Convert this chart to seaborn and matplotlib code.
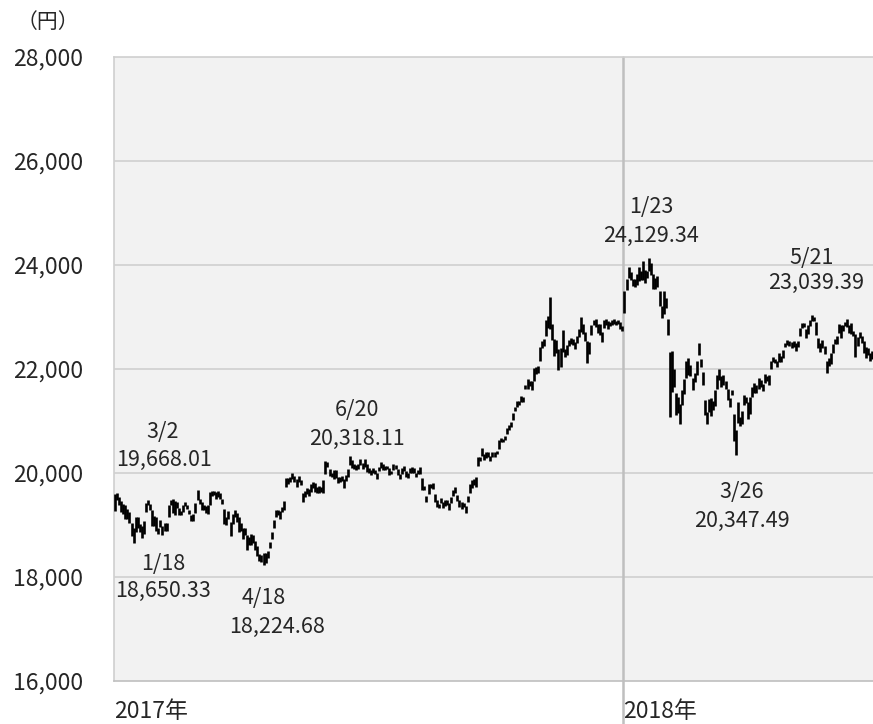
import numpy as np
import pandas as pd
import seaborn as sns
import matplotlib.pyplot as plt

# daily high / low (yen), trading days 2017-01-04 .. 2018-06-29
highs_2017 = [
    19594, 19615, 19533, 19454, 19411, 19390, 19302, 19255, 19046, 18939, 19147, 19152, 19011, 18979, 19070, 19431, 19486, 19398, 19292,
    19174, 19155, 18949, 19102, 18979, 19035, 19037, 19392, 19481, 19507, 19461, 19451, 19321, 19271, 19386, 19449, 19393, 19298, 19199, 19212,
    19415, 19668, 19492, 19439, 19390, 19373, 19379, 19627, 19656, 19651, 19644, 19650, 19620, 19505, 19299, 19155, 19278, 19059, 19207, 19297, 19226, 19154,
    19034, 18942, 18950, 18799, 18760, 18828, 18806, 18691, 18587, 18438, 18417, 18453, 18462, 18508, 18666, 18875, 19100, 19289, 19292, 19263,
    19342, 19462, 19895, 19900, 19928, 19998, 19935, 19885, 19940, 19874, 19612, 19660, 19716, 19685, 19779, 19836, 19799, 19733, 19756, 19734,
    19874, 20239, 20218, 20073, 20003, 20050, 20067, 19931, 19931, 19937, 19882, 19962, 20072, 20318, 20250, 20168, 20153, 20171, 20264, 20183, 20278, 20171,
    20091, 20051, 20097, 20063, 19995, 20109, 20209, 20167, 20144, 20138, 20095, 20047, 20168, 20160, 20075, 19987, 20092, 20133, 20047, 20004,
    20096, 20115, 20096, 19996, 20063, 20112, 19900, 19755, 19566, 19780, 19793, 19800, 19596, 19476, 19412, 19513, 19437, 19480, 19476, 19420, 19544, 19674,
    19736, 19586, 19477, 19443, 19430, 19371, 19550, 19786, 19869, 19877, 19924, 20315, 20311, 20481, 20363, 20397, 20400, 20321, 20399, 20402,
    20421, 20628, 20676, 20659, 20719, 20861, 20917, 20976, 21155, 21270, 21376, 21388, 21484, 21457, 21697, 21805, 21777, 21778, 22012, 22040, 22066,
    22420, 22540, 22574, 22937, 23012, 23382, 22874, 22575, 22549, 22392, 22398, 22757, 22380, 22462, 22553, 22601, 22580, 22511, 22626, 22768,
    22994, 22864, 22710, 22531, 22520, 22837, 22940, 22954, 22866, 22858, 22714, 22937, 22960, 22930, 22900, 22940, 22957, 22930, 22949, 22900, 22831,
]
lows_2017 = [
    19277, 19473, 19378, 19255, 19217, 19122, 19111, 19036, 18783, 18650, 18872, 18946, 18870, 18755, 18827, 19252, 19389, 19281, 18987,
    18980, 18891, 18830, 18955, 18805, 18887, 18890, 19160, 19382, 19238, 19185, 19335, 19200, 19183, 19245, 19362, 19312, 19209, 19072, 19072,
    19223, 19487, 19400, 19284, 19284, 19227, 19208, 19387, 19566, 19568, 19500, 19545, 19505, 19397, 19021, 18996, 19110, 18785, 19013, 19162, 19063, 18865,
    18888, 18738, 18812, 18517, 18613, 18617, 18660, 18515, 18400, 18314, 18290, 18225, 18270, 18369, 18558, 18725, 18946, 19151, 19196, 19117,
    19254, 19296, 19740, 19794, 19822, 19889, 19819, 19724, 19834, 19777, 19449, 19535, 19593, 19560, 19635, 19716, 19637, 19624, 19608, 19627,
    19619, 19986, 20119, 19933, 19917, 19893, 19906, 19813, 19818, 19850, 19721, 19851, 19927, 20148, 20104, 20081, 20058, 20085, 20163, 20080, 20121, 20017,
    19991, 19960, 20005, 19980, 19889, 20030, 20103, 20065, 20055, 20068, 19964, 19972, 20050, 20073, 19966, 19880, 19981, 20035, 19931, 19903,
    20000, 20003, 20000, 19920, 19974, 19976, 19680, 19664, 19450, 19596, 19710, 19695, 19449, 19338, 19321, 19420, 19335, 19371, 19386, 19280, 19432, 19560,
    19622, 19460, 19345, 19300, 19355, 19239, 19450, 19625, 19712, 19773, 19735, 20130, 20225, 20327, 20252, 20285, 20300, 20223, 20317, 20317,
    20360, 20466, 20598, 20592, 20640, 20750, 20830, 20890, 21015, 21183, 21270, 21301, 21364, 21367, 21611, 21608, 21676, 21600, 21778, 21900, 21929,
    22147, 22401, 22433, 22631, 22788, 22768, 22549, 22257, 22300, 21990, 22046, 22330, 22222, 22271, 22440, 22487, 22453, 22390, 22500, 22620,
    22717, 22670, 22540, 22119, 22284, 22650, 22841, 22811, 22700, 22650, 22514, 22781, 22844, 22777, 22820, 22840, 22872, 22844, 22860, 22766, 22723,
]
highs_2018 = [
    23506, 23730, 23952, 23864, 23734, 23734, 23833, 23952, 23890, 24084, 23898, 23877, 24129, 24033, 23828, 23748, 23787, 23508, 23203,
    23492, 23360, 22967, 22330, 22353, 22007, 21541, 21462, 21336, 21599, 21802, 22152, 22210, 22086, 21823, 21927, 22162, 22502, 22194,
    21939, 21403, 21167, 21425, 21450, 21384, 21587, 21876, 22000, 21859, 21881, 21768, 21615, 21434, 21600, 21135, 20818, 21372, 21079, 21191, 21500,
    21462, 21367, 21454, 21656, 21722, 21693, 21831, 21797, 21711, 21903, 21874, 21882, 22163, 22225, 22190, 22163, 22316, 22254, 22361, 22506,
    22555, 22530, 22523, 22546, 22509, 22529, 22779, 22885, 22880, 22762, 22840, 22947, 23039, 22998, 22895, 22600, 22491, 22557, 22440, 22148, 22221,
    22316, 22486, 22571, 22637, 22856, 22854, 22845, 22912, 22966, 22847, 22881, 22734, 22674, 22617, 22708, 22630, 22540, 22420, 22400, 22300, 22350,
]
lows_2018 = [
    23073, 23520, 23758, 23719, 23601, 23578, 23610, 23694, 23718, 23718, 23655, 23743, 23878, 23816, 23547, 23532, 23577, 23212, 22987,
    23067, 23175, 22659, 21078, 21559, 21646, 21121, 21154, 20950, 21300, 21526, 21822, 21890, 21870, 21600, 21748, 21882, 22265, 22038,
    21684, 21119, 20937, 21181, 21096, 21220, 21280, 21606, 21795, 21645, 21700, 21620, 21400, 21278, 21500, 20617, 20347, 20957, 20900, 20951, 21300,
    21343, 21031, 21142, 21467, 21542, 21546, 21620, 21656, 21580, 21725, 21769, 21701, 21993, 22129, 22107, 22035, 22140, 22130, 22218, 22417,
    22466, 22438, 22398, 22419, 22353, 22423, 22634, 22789, 22803, 22601, 22680, 22830, 22924, 22931, 22650, 22400, 22335, 22403, 22288, 21931, 22061,
    22100, 22301, 22472, 22476, 22690, 22603, 22732, 22822, 22814, 22700, 22671, 22632, 22229, 22433, 22589, 22500, 22300, 22217, 22262, 22150, 22190,
]

year_labels = ['2017年', '2018年']
y_ticks = [16000, 18000, 20000, 22000, 24000, 26000, 28000]

# callouts: (day index, price) of each text line
note_texts = ['3/2', '19,668.01', '1/18', '18,650.33', '4/18', '18,224.68',
              '6/20', '20,318.11', '1/23', '24,129.34', '5/21', '23,039.39',
              '3/26', '20,347.49']
note_x = [23.2, 23.7, 23.2, 23.2, 72.2, 78.5, 117.2, 117.2, 260, 260, 337.5, 340, 304, 304]
note_y = [20788, 20250, 18250, 17731, 17596, 17038, 21212, 20654, 25115, 24558, 24135, 23654, 19635, 19077]

df = pd.DataFrame({'high': highs_2017 + highs_2018, 'low': lows_2017 + lows_2018})
df['day'] = np.arange(len(df))
split = len(highs_2017) - 0.5

sns.set_style('white')
plt.rcParams['font.family'] = ['Noto Sans CJK JP', 'DejaVu Sans']
text_color = '#262626'

fig = plt.figure(figsize=(8.73, 7.24), dpi=100)
ax = fig.add_axes([114 / 873, 43 / 724, 1 - 114 / 873, 624 / 724])
ax.set_facecolor('#f2f2f2')

for y in y_ticks[1:-1]:
    ax.axhline(y, color='#d0d0d0', lw=1.2, zorder=1)
ax.axvline(split, ymin=-0.07, ymax=1, color='#bfbfbf', lw=1.8, clip_on=False, zorder=2)

ax.vlines(df['day'], df['low'], df['high'], color='black', lw=1.9, zorder=3)

for t, x, y in zip(note_texts, note_x, note_y):
    ax.text(x, y, t, ha='center', va='center', fontsize=15.5, color=text_color, zorder=4)

ax.set_xlim(-0.5, len(df) - 0.5)
ax.set_ylim(y_ticks[0], y_ticks[-1])
ax.set_yticks(y_ticks)
ax.set_yticklabels([f'{v:,}' for v in y_ticks])
ax.set_xticks([-0.5, split])
ax.set_xticklabels(year_labels, ha='left')
ax.tick_params(axis='y', length=0, pad=22, labelsize=16.5, labelcolor=text_color)
ax.tick_params(axis='x', length=0, pad=14, labelsize=16.5, labelcolor=text_color)

for s in ['top', 'left', 'bottom']:
    ax.spines[s].set_color('#cfcfcf')
    ax.spines[s].set_linewidth(1.2)
ax.spines['bottom'].set_color('#bfbfbf')
ax.spines['right'].set_visible(False)

fig.text(48 / 873, 1 - 22 / 724, '（円）', ha='center', va='center', fontsize=15, color=text_color)

fig.savefig('out.png', dpi=100)
